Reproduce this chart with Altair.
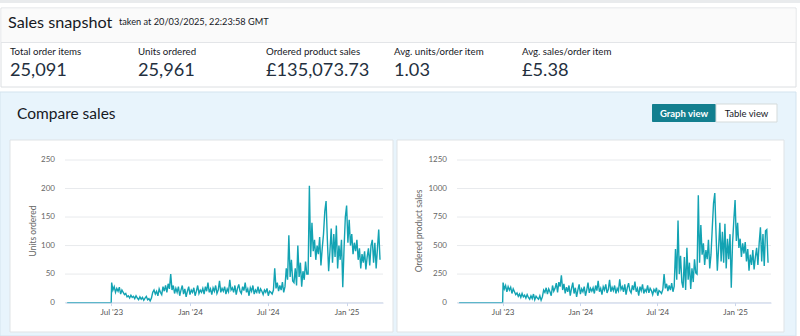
import altair as alt
import pandas as pd

# ---------------- text content ----------------
title_text = "Sales snapshot"
taken_text = "taken at 20/03/2025, 22:23:58 GMT"
metric_labels = ["Total order items", "Units ordered", "Ordered product sales",
                 "Avg. units/order item", "Avg. sales/order item"]
metric_values = ["25,091", "25,961", "£135,073.73", "1.03", "£5.38"]
section_title = "Compare sales"
button_labels = ["Graph view", "Table view"]
units_title = "Units ordered"
sales_title = "Ordered product sales"

# ---------------- series (every 3 days from 2023-07-02) ----------------
zero_dates = ["2023-03-20", "2023-07-01"]
series_start = "2023-07-02"
units = [
    35, 22, 28, 18, 25, 20, 27, 15, 22, 18,
    14, 16, 10, 12, 8, 13, 9, 11, 7, 12,
    8, 5, 10, 6, 9, 4, 8, 11, 5, 7,
    3, 8, 18, 22, 15, 20, 12, 24, 18, 14, 28,
    20, 30, 18, 33, 24, 50, 22, 30, 16, 25,
    18, 28, 12, 22, 30, 15, 24, 10, 20, 28,
    14, 22, 18, 26, 12, 20, 30, 16, 22, 18,
    25, 15, 28, 20, 35, 18, 24, 14, 26, 20,
    30, 16, 22, 38, 18, 25, 20, 28, 15, 24,
    19, 40, 22, 26, 18, 30, 14, 25, 32, 20,
    16, 28, 21, 35, 18, 24, 12, 26, 20, 30,
    15, 22, 18, 28, 16, 24, 20, 14, 22, 18, 25,
    12, 20, 18, 15, 22, 60, 25, 35, 20, 30,
    22, 36, 18, 28, 60, 40, 118, 45, 75, 38,
    35, 60, 30, 100, 45, 70, 28, 55, 40, 72, 50,
    50, 205, 80, 140, 90, 110, 75, 100, 85, 115,
    65, 95, 120, 160, 178, 110, 55, 90, 130, 70,
    120, 80, 135, 60, 100, 75, 110, 27, 95, 150,
    170, 105, 145, 100, 120, 85, 105, 90, 110, 75, 95,
    60, 85, 70, 90, 58, 80, 95, 65, 100,
    110, 70, 105, 60, 95, 128, 75,
]
sales = [
    175, 120, 150, 95, 140, 110, 135, 80, 120, 95,
    70, 85, 55, 75, 45, 80, 50, 65, 40, 70,
    45, 30, 60, 35, 75, 25, 55, 40, 30, 60,
    20, 50, 110, 90, 130, 75, 120, 95, 60, 150, 100,
    125, 170, 90, 180, 140, 240, 110, 165, 80, 135,
    95, 150, 60, 125, 175, 80, 130, 50, 110, 160,
    75, 120, 95, 140, 60, 110, 175, 85, 125, 100,
    130, 80, 150, 105, 190, 95, 125, 70, 140, 110,
    160, 85, 115, 200, 95, 135, 105, 150, 80, 125,
    100, 205, 115, 140, 95, 160, 70, 130, 170, 105,
    85, 150, 110, 185, 95, 125, 60, 140, 105, 160,
    80, 115, 95, 150, 85, 125, 105, 70, 115, 95, 130,
    60, 105, 95, 80, 115, 250, 125, 165, 100, 150,
    110, 170, 95, 145, 470, 200, 720, 250, 410, 180,
    130, 400, 110, 480, 200, 350, 120, 300, 180, 380, 260,
    250, 940, 350, 680, 420, 520, 330, 460, 380, 550,
    300, 420, 650, 870, 960, 600, 280, 480, 700, 360,
    620, 350, 690, 300, 560, 380, 600, 130, 520, 720,
    900, 540, 700, 480, 560, 400, 520, 430, 530, 360, 470,
    280, 420, 330, 460, 290, 400, 480, 330, 520,
    660, 360, 600, 320, 630, 640, 350,
]
units_ticks = [0, 50, 100, 150, 200, 250]
sales_ticks = [0, 250, 500, 750, 1000, 1250]
x_tick_dates = [(2023, 7), (2024, 1), (2024, 7), (2025, 1)]

dates = list(pd.to_datetime(zero_dates)) + list(pd.date_range(series_start, periods=len(units), freq="3D"))
df = pd.DataFrame({
    "date": [d.strftime("%Y-%m-%d") for d in dates],
    "units": [0, 0] + units,
    "sales": [0, 0] + sales,
})

FONT = "Lato"
DARK = "#16191f"
AXIS_GREY = "#666666"
LINE = "#13a3b3"
dummy = pd.DataFrame({"d": [0]})


def box(x, y, x2, y2, fill, stroke=None, sw=1, radius=0):
    kw = dict(fill=fill, cornerRadius=radius)
    if stroke:
        kw.update(stroke=stroke, strokeWidth=sw)
    else:
        kw.update(strokeWidth=0)
    return alt.Chart(dummy).mark_rect(**kw).encode(
        x=alt.value(x), x2=alt.value(x2), y=alt.value(y), y2=alt.value(y2))


def label(txt, x, y, size, color=DARK, weight="normal", align="left", angle=0, baseline="alphabetic"):
    return alt.Chart(dummy).mark_text(
        text=txt, font=FONT, fontSize=size, color=color, fontWeight=weight,
        align=align, baseline=baseline, angle=angle).encode(x=alt.value(x), y=alt.value(y))


chrome = [
    box(0, 0, 800, 3, "#e9ebed"),
    box(1, 8, 796, 87, "#ffffff", "#dcdfe2"),
    box(1.5, 8.5, 795.5, 42, "#fafafa"),
    box(1, 42, 796, 43, "#e3e5e8"),
    label(title_text, 8, 28, 16.2),
    label(taken_text, 119, 24.5, 9.2),
    box(0, 92, 796, 336, "#e8f4fc", "#d3e3ee"),
    label(section_title, 17, 119, 15.5),
    box(652, 104, 716, 122, "#137f8f", radius=1),
    box(716, 104, 777, 122, "#ffffff", "#d5dbdb"),
    label(button_labels[0], 684, 117, 9.5, "#ffffff", "bold", "center"),
    label(button_labels[1], 746.5, 117, 9.5, DARK, "normal", "center"),
    box(10, 140, 393, 332, "#ffffff", "#dfe3e6"),
    box(397, 140, 784, 332, "#ffffff", "#dfe3e6"),
    label(units_title, 33, 231, 8.5, AXIS_GREY, angle=270, align="center", baseline="middle"),
    label(sales_title, 419, 231, 8.5, AXIS_GREY, angle=270, align="center", baseline="middle"),
]
for i, (lab, val) in enumerate(zip(metric_labels, metric_values)):
    x0 = 10 + 128 * i
    chrome.append(label(lab, x0, 55, 9.7))
    chrome.append(label(val, x0, 75.5, 18.2, "#232f3e"))

x_values = [alt.DateTime(year=y, month=m, date=1) for y, m in x_tick_dates]
x_dom = [alt.DateTime(year=2023, month=3, date=15), alt.DateTime(year=2025, month=3, date=27)]
Y0, Y1 = 302.6, 160


def panel(field, ticks, gx0, gx1):
    yscale = alt.Scale(domain=[ticks[0], ticks[-1]], range=[Y0, Y1], nice=False)
    xscale = alt.Scale(domain=x_dom, range=[gx0, gx1], nice=False)
    tick_df = pd.DataFrame({"v": ticks})
    grid = alt.Chart(tick_df).mark_rule(color="#e8eaed", strokeWidth=1).encode(
        y=alt.Y("v:Q", scale=yscale, axis=None),
        x=alt.value(gx0), x2=alt.value(gx1))
    ylabels = alt.Chart(tick_df).mark_text(
        font=FONT, fontSize=8, color=AXIS_GREY, align="right", baseline="middle").encode(
        y=alt.Y("v:Q", scale=yscale, axis=None),
        x=alt.value(gx0 - 10), text=alt.Text("v:Q", format="d"))
    line = alt.Chart(df).mark_line(color=LINE, strokeWidth=1.4).encode(
        x=alt.X("date:T", scale=xscale, axis=alt.Axis(
            orient="bottom", offset=-(336 - Y0), values=x_values, format="%b '%y",
            grid=False, domainColor="#ccd6eb", tickColor="#ccd6eb", tickSize=3,
            labelPadding=3, labelFont=FONT, labelFontSize=8, labelColor="#555555",
            labelAngle=0, title=None, zindex=2)),
        y=alt.Y(f"{field}:Q", scale=yscale, axis=None),
    )
    return alt.layer(grid, ylabels, line)


left = panel("units", units_ticks, 65, 383)
right = panel("sales", sales_ticks, 457, 771)

chart = alt.layer(*chrome, left, right).resolve_scale(
    x="independent", y="independent"
).properties(
    width=800, height=336, padding=0, autosize=alt.AutoSizeParams(type="none")
).configure_view(stroke=None)

chart.save("out.html", embed_options={"renderer": "svg", "actions": False})
